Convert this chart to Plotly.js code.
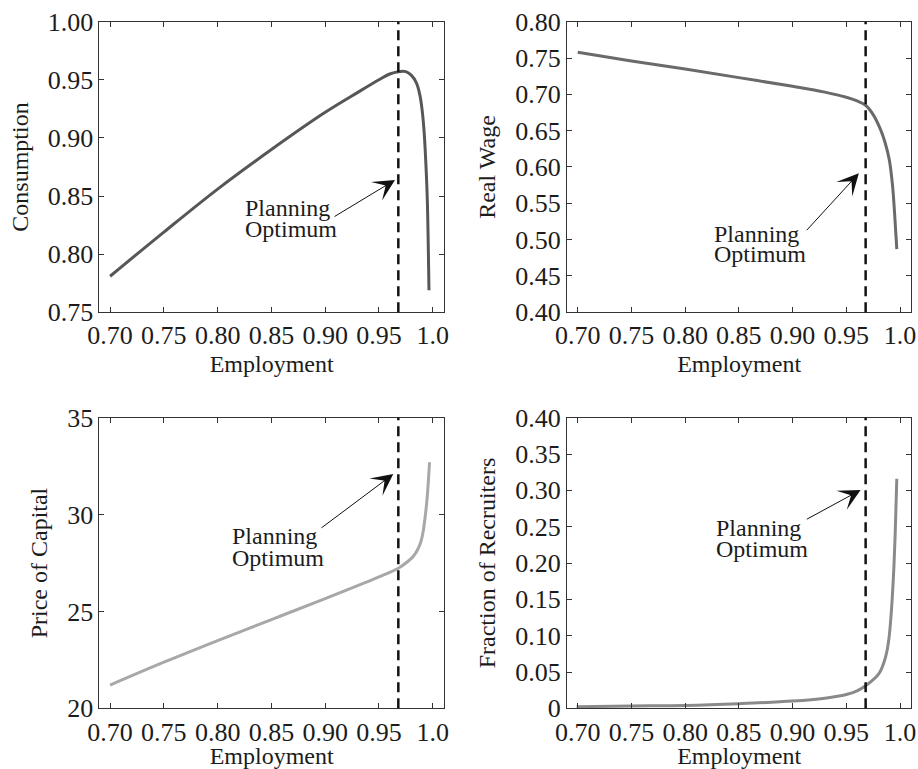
<!DOCTYPE html>
<html>
<head>
<meta charset="utf-8">
<script src="https://cdn.plot.ly/plotly-3.0.1.min.js"></script>
<style>
  html, body { margin: 0; padding: 0; background: #ffffff; }
  #chart { width: 918px; height: 769px; }
</style>
</head>
<body>
<div id="chart"></div>
<script>
// ---- Data ----
const xTickVals = [0.70, 0.75, 0.80, 0.85, 0.90, 0.95, 1.0];
const xTickText = ['0.70', '0.75', '0.80', '0.85', '0.90', '0.95', '1.0'];
const planningOptimum = 0.968;

// Panel 1: Consumption
const empConsumption = [0.70, 0.75, 0.80, 0.85, 0.90, 0.93, 0.95, 0.96, 0.968, 0.975, 0.98, 0.985, 0.988, 0.990, 0.992, 0.994, 0.995, 0.9965];
const consumption    = [0.781, 0.819, 0.856, 0.890, 0.922, 0.939, 0.950, 0.955, 0.957, 0.957, 0.954, 0.947, 0.937, 0.925, 0.905, 0.870, 0.845, 0.769];

// Panel 2: Real Wage
const empWage  = [0.70, 0.75, 0.80, 0.85, 0.90, 0.93, 0.95, 0.96, 0.968, 0.975, 0.982, 0.986, 0.990, 0.993, 0.995, 0.997];
const realWage = [0.758, 0.746, 0.735, 0.723, 0.711, 0.703, 0.696, 0.691, 0.685, 0.672, 0.651, 0.634, 0.610, 0.575, 0.535, 0.487];

// Panel 3: Price of Capital
const empCapital   = [0.70, 0.75, 0.80, 0.85, 0.90, 0.95, 0.968, 0.975, 0.982, 0.986, 0.989, 0.991, 0.993, 0.995, 0.997];
const priceCapital = [21.20, 22.38, 23.50, 24.58, 25.66, 26.78, 27.23, 27.50, 27.85, 28.20, 28.60, 29.10, 29.90, 31.00, 32.70];

// Panel 4: Fraction of Recruiters
const empRecruit  = [0.699, 0.75, 0.80, 0.85, 0.90, 0.93, 0.95, 0.96, 0.968, 0.98, 0.985, 0.988, 0.990, 0.992, 0.994, 0.9955, 0.997];
const recruiters  = [0.0023, 0.0032, 0.0040, 0.0064, 0.0100, 0.0140, 0.0190, 0.0240, 0.0310, 0.0470, 0.0630, 0.0800, 0.1000, 0.1350, 0.1850, 0.2400, 0.3160];

// Y tick labels
const yTick1 = [0.75, 0.80, 0.85, 0.90, 0.95, 1.00];
const yTick2 = [0.40, 0.45, 0.50, 0.55, 0.60, 0.65, 0.70, 0.75, 0.80];
const yTick3 = [20, 25, 30, 35];
const yTick4 = [0, 0.05, 0.10, 0.15, 0.20, 0.25, 0.30, 0.35, 0.40];
const yTick4Text = ['0', '0.05', '0.10', '0.15', '0.20', '0.25', '0.30', '0.35', '0.40'];

// Annotation positions (data coords)
const notes = [
  {ax: 'x',  ay: 'y',  hx: 0.9649, hy: 0.8638, tx: 0.9073, ty: 0.8316, lx: 0.8239, py: 0.8395, oy: 0.8220},
  {ax: 'x2', ay: 'y2', hx: 0.9617, hy: 0.5913, tx: 0.9119, ty: 0.5109, lx: 0.8246, py: 0.5080, oy: 0.4800},
  {ax: 'x3', ay: 'y3', hx: 0.9633, hy: 32.09,  tx: 0.8952, ty: 29.26,  lx: 0.8115, py: 28.87,  oy: 27.77},
  {ax: 'x4', ay: 'y4', hx: 0.9633, hy: 0.3005, tx: 0.9119, ty: 0.2592, lx: 0.8271, py: 0.2480, oy: 0.2197}
];

// ---- Styling ----
const FONT = 'Liberation Serif, "Times New Roman", Times, serif';
const TXT = '#1c1c1c';
const TICKFS = 26;
const TITLEFS = 24;

function xAxis(domain, anchor) {
  return {
    domain: domain, anchor: anchor, range: [0.69, 1.0105],
    tickmode: 'array', tickvals: xTickVals, ticktext: xTickText,
    ticks: 'inside', ticklen: 5, tickcolor: '#333', tickwidth: 1,
    showline: true, linecolor: '#333', linewidth: 1, mirror: 'ticks',
    showgrid: false, zeroline: false,
    tickfont: {family: FONT, size: TICKFS, color: TXT},
    title: {text: 'Employment', font: {family: FONT, size: TITLEFS, color: TXT}, standoff: 5}
  };
}
function yAxis(domain, anchor, range, vals, text, title) {
  return {
    domain: domain, anchor: anchor, range: range,
    tickmode: 'array', tickvals: vals, ticktext: text,
    ticks: 'inside', ticklen: 5, tickcolor: '#333', tickwidth: 1,
    showline: true, linecolor: '#333', linewidth: 1, mirror: 'ticks',
    showgrid: false, zeroline: false,
    tickfont: {family: FONT, size: TICKFS, color: TXT},
    title: {text: title, font: {family: FONT, size: TITLEFS, color: TXT}, standoff: 12}
  };
}

const dx1 = [0.1082, 0.4837], dx2 = [0.6176, 0.9927];
const dyTop = [0.5939, 0.9718], dyBot = [0.0789, 0.4568];

const traces = [
  {x: empConsumption, y: consumption, xaxis: 'x', yaxis: 'y', mode: 'lines',
   line: {color: '#575757', width: 3, shape: 'spline', smoothing: 1}, hoverinfo: 'skip'},
  {x: empWage, y: realWage, xaxis: 'x2', yaxis: 'y2', mode: 'lines',
   line: {color: '#6a6a6a', width: 3, shape: 'spline', smoothing: 1}, hoverinfo: 'skip'},
  {x: empCapital, y: priceCapital, xaxis: 'x3', yaxis: 'y3', mode: 'lines',
   line: {color: '#a8a8a8', width: 3, shape: 'spline', smoothing: 1}, hoverinfo: 'skip'},
  {x: empRecruit, y: recruiters, xaxis: 'x4', yaxis: 'y4', mode: 'lines',
   line: {color: '#8a8a8a', width: 3, shape: 'spline', smoothing: 1}, hoverinfo: 'skip'}
];

const shapes = ['x', 'x2', 'x3', 'x4'].map(function (xr) {
  return {type: 'line', xref: xr, yref: (xr === 'x' ? 'y' : 'y' + xr.slice(1)) + ' domain',
          x0: planningOptimum, x1: planningOptimum, y0: 0, y1: 1,
          line: {color: '#111', width: 2.5, dash: '10px,6px'}};
});

const annotations = [];
notes.forEach(function (n) {
  annotations.push({xref: n.ax, yref: n.ay, axref: n.ax, ayref: n.ay,
    x: n.hx, y: n.hy, ax: n.tx, ay: n.ty, text: '', showarrow: true,
    arrowhead: 3, arrowsize: 3.6, arrowwidth: 1, arrowcolor: '#111', standoff: 0, startstandoff: 0});
  annotations.push({xref: n.ax, yref: n.ay, x: n.lx, y: n.py, text: 'Planning', showarrow: false,
    xanchor: 'left', yanchor: 'middle', font: {family: FONT, size: TITLEFS, color: TXT}});
  annotations.push({xref: n.ax, yref: n.ay, x: n.lx, y: n.oy, text: 'Optimum', showarrow: false,
    xanchor: 'left', yanchor: 'middle', font: {family: FONT, size: TITLEFS, color: TXT}});
});

const layout = {
  width: 918, height: 769,
  margin: {l: 0, r: 0, t: 0, b: 0},
  paper_bgcolor: '#ffffff', plot_bgcolor: '#ffffff',
  showlegend: false,
  font: {family: FONT, size: TITLEFS, color: TXT},
  xaxis:  xAxis(dx1, 'y'),
  yaxis:  yAxis(dyTop, 'x', [0.75, 1.0], yTick1, yTick1.map(v => v.toFixed(2)), 'Consumption'),
  xaxis2: xAxis(dx2, 'y2'),
  yaxis2: yAxis(dyTop, 'x2', [0.40, 0.80], yTick2, yTick2.map(v => v.toFixed(2)), 'Real Wage'),
  xaxis3: xAxis(dx1, 'y3'),
  yaxis3: yAxis(dyBot, 'x3', [20, 35], yTick3, yTick3.map(v => String(v)), 'Price of Capital'),
  xaxis4: xAxis(dx2, 'y4'),
  yaxis4: yAxis(dyBot, 'x4', [0, 0.40], yTick4, yTick4Text, 'Fraction of Recruiters'),
  shapes: shapes,
  annotations: annotations
};

Plotly.newPlot('chart', traces, layout, {displayModeBar: false, staticPlot: true});
</script>
</body>
</html>
